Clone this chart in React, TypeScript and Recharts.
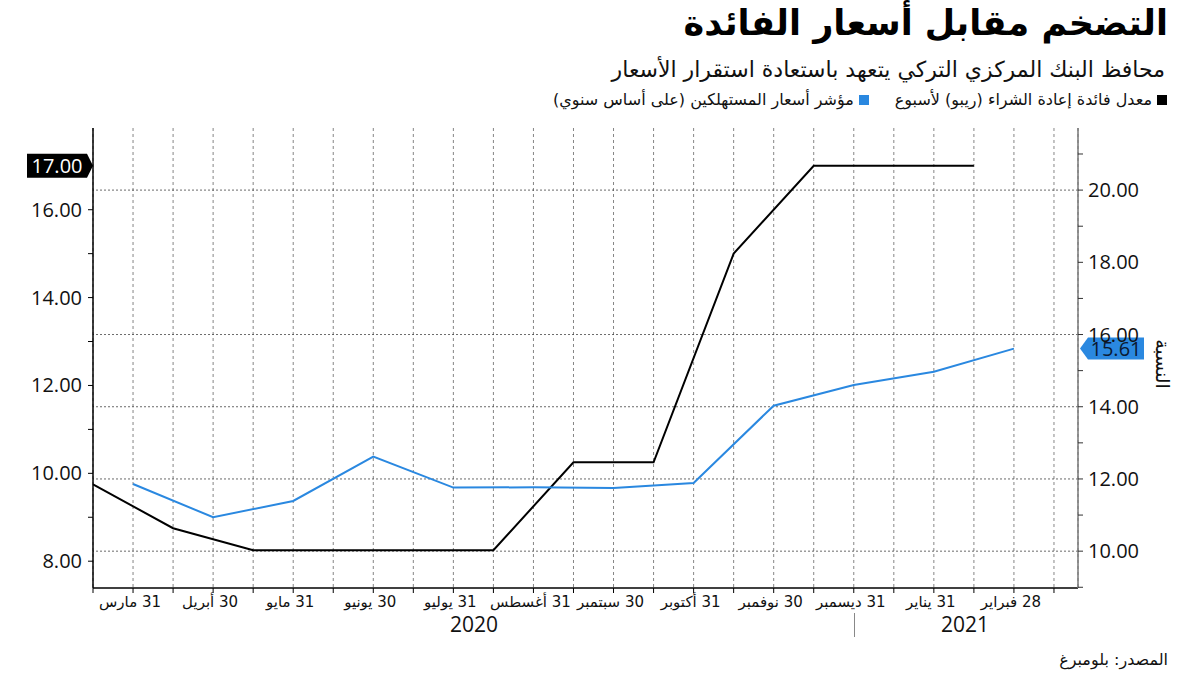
import {
  LineChart,
  Line,
  XAxis,
  YAxis,
  CartesianGrid,
  ReferenceLine,
  ReferenceDot,
} from "recharts";

// one point per month: policy decision mid-month, CPI at month end
const repoRate = [9.75, 8.75, 8.25, 8.25, 8.25, 8.25, 10.25, 10.25, 15, 17, 17, 17];
const cpi = [11.86, 10.94, 11.39, 12.62, 11.76, 11.77, 11.75, 11.89, 14.03, 14.6, 14.97, 15.61];
const monthLabels = [
  "31 مارس",
  "30 أبريل",
  "31 مايو",
  "30 يونيو",
  "31 يوليو",
  "31 أغسطس",
  "30 سبتمبر",
  "31 أكتوبر",
  "30 نوفمبر",
  "31 ديسمبر",
  "31 يناير",
  "28 فبراير",
];
const leftTicks = [8, 9, 10, 11, 12, 13, 14, 15, 16, 17];
const rightTicks = [9, 10, 11, 12, 13, 14, 15, 16, 17, 18, 19, 20, 21];
const rightGrid = [10, 12, 14, 16, 20];
const halfMonthTicks = Array.from({ length: 25 }, (_, i) => i);

const ARABIC = '"DejaVu Sans", sans-serif';
const NUM = '"Open Sans", "DejaVu Sans", sans-serif';
const BLUE = "#2a88e0";

const repoData = repoRate.map((v, i) => ({ x: i * 2, v }));
const cpiData = cpi.map((v, i) => ({ x: i * 2 + 1, v }));

const XTick = (props: any) => {
  const { x, y, payload } = props;
  const v = payload.value;
  if (v % 2 !== 1) return <g />;
  return (
    <text x={x - 3} y={y + 12} textAnchor="middle" direction="rtl" fontFamily={ARABIC} fontSize={15} fill="#111">
      {monthLabels[(v - 1) / 2]}
    </text>
  );
};

const LeftTick = (props: any) => {
  const { x, y, payload } = props;
  if (payload.value % 2 !== 0) return <g />;
  return (
    <text x={x} y={y} dy="0.35em" textAnchor="end" fontFamily={NUM} fontSize={20} fill="#111">
      {payload.value.toFixed(2)}
    </text>
  );
};

const RightTick = (props: any) => {
  const { x, y, payload } = props;
  if (payload.value % 2 !== 0) return <g />;
  return (
    <text x={x} y={y} dy="0.35em" textAnchor="start" fontFamily={NUM} fontSize={20} fill="#111">
      {payload.value.toFixed(2)}
    </text>
  );
};

const LeftTag = (props: any) => {
  const { cx, cy } = props;
  const r = cx - 6;
  const l = cx - 66;
  return (
    <g>
      <polygon points={`${l},${cy - 12} ${r},${cy - 12} ${cx},${cy} ${r},${cy + 12} ${l},${cy + 12}`} fill="#000" />
      <text x={(l + r) / 2} y={cy} dy="0.35em" textAnchor="middle" fontFamily={NUM} fontSize={20} fill="#fff">
        {repoRate[repoRate.length - 1].toFixed(2)}
      </text>
    </g>
  );
};

const RightTag = (props: any) => {
  const { cx, cy } = props;
  const tip = cx + 2;
  const l = cx + 10;
  const r = cx + 66;
  return (
    <g>
      <polygon points={`${tip},${cy} ${l},${cy - 11} ${r},${cy - 11} ${r},${cy + 11} ${l},${cy + 11}`} fill={BLUE} />
      <text x={(l + r) / 2} y={cy} dy="0.35em" textAnchor="middle" fontFamily={NUM} fontSize={20} fill="#0b1a33">
        {cpi[cpi.length - 1].toFixed(2)}
      </text>
    </g>
  );
};

export default function App() {
  return (
    <div style={{ position: "absolute", left: 0, top: 0, width: 1200, height: 675, background: "#fff", overflow: "hidden" }}>
      <div dir="rtl" style={{ position: "absolute", right: 32, top: 3, fontFamily: ARABIC, fontWeight: 700, fontSize: 35, color: "#000", whiteSpace: "nowrap" }}>
        التضخم مقابل أسعار الفائدة
      </div>
      <div dir="rtl" style={{ position: "absolute", right: 35, top: 57, fontFamily: ARABIC, fontSize: 22, color: "#111", whiteSpace: "nowrap" }}>
        محافظ البنك المركزي التركي يتعهد باستعادة استقرار الأسعار
      </div>
      <div dir="rtl" style={{ position: "absolute", right: 33, top: 90, fontFamily: ARABIC, fontSize: 16, color: "#111", whiteSpace: "nowrap", display: "flex", alignItems: "center" }}>
        <span style={{ display: "inline-block", width: 10, height: 10, background: "#000", marginLeft: 5 }} />
        <span>معدل فائدة إعادة الشراء (ريبو) لأسبوع</span>
        <span style={{ display: "inline-block", width: 10, height: 10, background: BLUE, marginLeft: 5, marginRight: 26 }} />
        <span>مؤشر أسعار المستهلكين (على أساس سنوي)</span>
      </div>

      <LineChart width={1200} height={675} data={repoData} margin={{ top: 128, right: 62, bottom: 57, left: 13 }}>
        <CartesianGrid horizontal={false} stroke="#666" strokeDasharray="3 3" strokeWidth={0.8} />
        {rightGrid.map((g) => (
          <ReferenceLine key={g} yAxisId="right" y={g} stroke="#444" strokeDasharray="2 2" strokeWidth={0.8} />
        ))}
        <XAxis
          type="number"
          dataKey="x"
          domain={[0, 24.6]}
          ticks={halfMonthTicks}
          interval={0}
          allowDataOverflow
          height={30}
          tickSize={5}
          tickMargin={2}
          tick={<XTick />}
          axisLine={{ stroke: "#000", strokeWidth: 1.5 }}
          tickLine={{ stroke: "#000" }}
        />
        <YAxis
          yAxisId="left"
          orientation="left"
          domain={[7.39, 17.86]}
          ticks={leftTicks}
          interval={0}
          allowDataOverflow
          width={80}
          tickSize={5}
          tickMargin={6}
          tick={<LeftTick />}
          axisLine={{ stroke: "#000", strokeWidth: 1.5 }}
          tickLine={{ stroke: "#000" }}
        />
        <YAxis
          yAxisId="right"
          orientation="right"
          domain={[8.98, 21.72]}
          ticks={rightTicks}
          interval={0}
          allowDataOverflow
          width={60}
          tickSize={5}
          tickMargin={5}
          tick={<RightTick />}
          axisLine={{ stroke: "#777", strokeWidth: 1.5 }}
          tickLine={{ stroke: "#333" }}
        />
        <Line yAxisId="left" data={repoData} dataKey="v" type="linear" stroke="#000" strokeWidth={2} dot={false} isAnimationActive={false} />
        <Line yAxisId="right" data={cpiData} dataKey="v" type="linear" stroke={BLUE} strokeWidth={2} dot={false} isAnimationActive={false} />
        <ReferenceDot yAxisId="left" x={0} y={repoRate[repoRate.length - 1]} ifOverflow="visible" shape={<LeftTag />} />
        <ReferenceDot yAxisId="right" x={24.6} y={cpi[cpi.length - 1]} ifOverflow="visible" shape={<RightTag />} />
      </LineChart>

      <div style={{ position: "absolute", left: 1148, top: 337, width: 30, height: 54, display: "flex", alignItems: "center", justifyContent: "center" }}>
        <div style={{ transform: "rotate(90deg)", fontFamily: ARABIC, fontSize: 19, whiteSpace: "nowrap", color: "#111" }}>النسبة</div>
      </div>
      <div style={{ position: "absolute", left: 450, top: 610, fontFamily: NUM, fontSize: 21, color: "#111" }}>2020</div>
      <div style={{ position: "absolute", left: 941, top: 610, fontFamily: NUM, fontSize: 21, color: "#111" }}>2021</div>
      <div style={{ position: "absolute", left: 854, top: 613, width: 1, height: 24, background: "#888" }} />
      <div dir="rtl" style={{ position: "absolute", right: 32, top: 650, fontFamily: ARABIC, fontSize: 16, color: "#111", whiteSpace: "nowrap" }}>
        المصدر: بلومبرغ
      </div>
    </div>
  );
}
